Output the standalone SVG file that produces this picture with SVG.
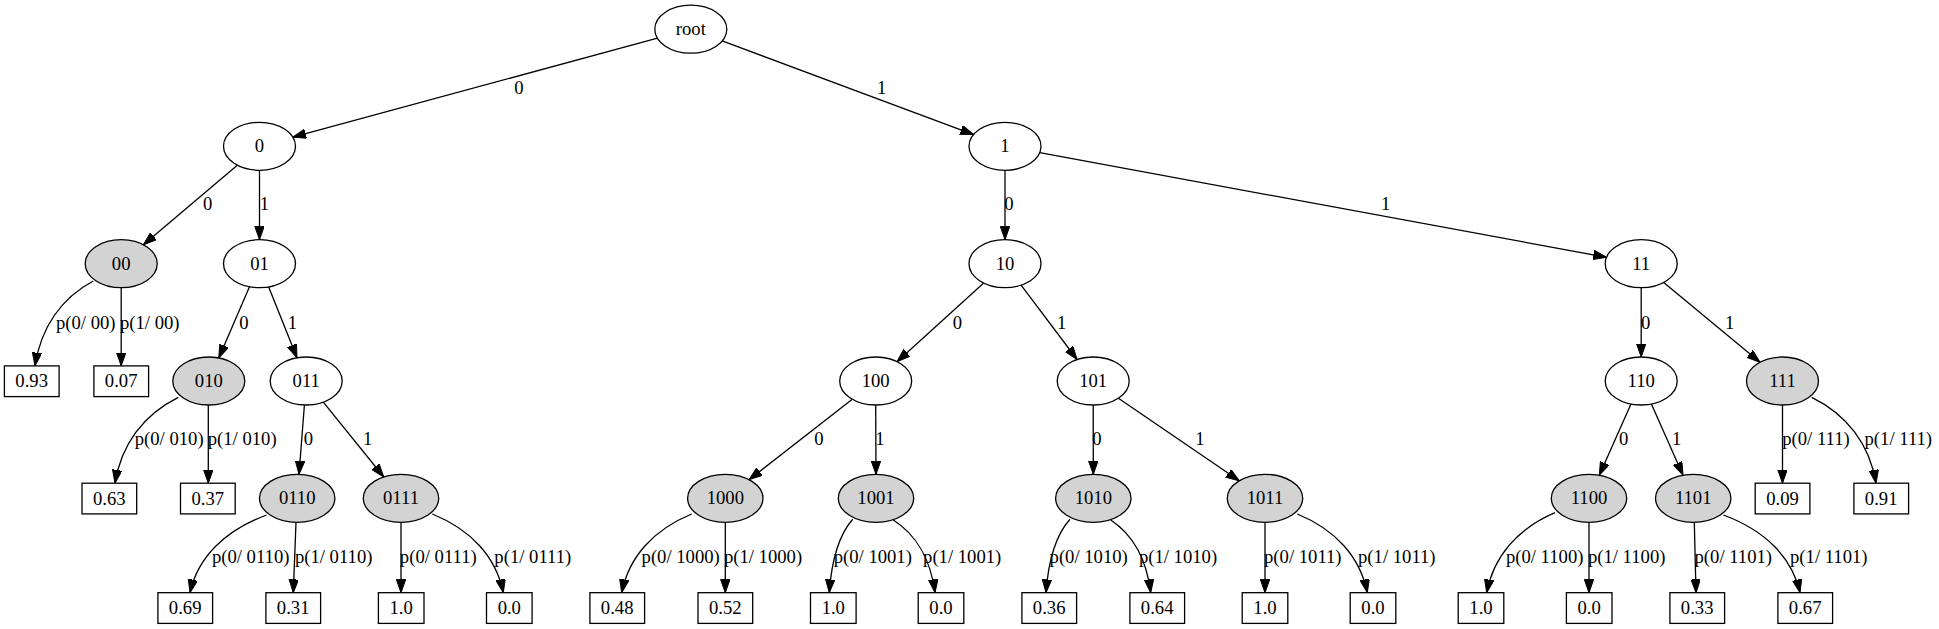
<svg xmlns="http://www.w3.org/2000/svg" width="1939" height="629" viewBox="0 0 1939 629">
<style>
text{font-family:"Liberation Serif","Times New Roman",serif;font-size:18.67px;fill:#000;text-anchor:middle}
.n ellipse{fill:#fff;stroke:#000;stroke-width:1.3}
.n.g ellipse{fill:#d3d3d3}
.n rect{fill:#fff;stroke:#000;stroke-width:1.3}
#edges path{fill:none;stroke:#000;stroke-width:1.3;marker-end:url(#ah)}
</style>
<defs>
<marker id="ah" markerUnits="userSpaceOnUse" markerWidth="14" markerHeight="10" refX="13.3" refY="4.7" orient="auto">
<path d="M0,0 L13.3,4.7 L0,9.4 z" fill="#000" stroke="#000" stroke-width="1"/>
</marker>
</defs>
<rect width="1939" height="629" fill="#fff"/>
<g id="edges">
<path d="M657.5,38.1 L292.8,137.2"/>
<path d="M722.2,40.9 L973.6,134.6"/>
<path d="M237.3,165.2 L143.4,244.8"/>
<path d="M259.5,170.3 L259.5,239.7"/>
<path d="M1005,170.3 L1005,239.7"/>
<path d="M1039.7,152.7 L1606.5,257.3"/>
<path d="M249.5,286.8 L218.8,357.9"/>
<path d="M268.7,286.9 L297,357.8"/>
<path d="M983.7,283 L897,361.7"/>
<path d="M1021.1,285.2 L1077.1,359.5"/>
<path d="M1641.2,287.7 L1641.2,357"/>
<path d="M1663.7,282.4 L1760,362.3"/>
<path d="M304.4,405 L299,474.3"/>
<path d="M323.3,402.1 L383.8,477"/>
<path d="M852.3,399.2 L749.1,479.7"/>
<path d="M875.7,405 L876,474.3"/>
<path d="M1093.2,405 L1093.3,474.3"/>
<path d="M1118.4,398.2 L1239.3,480.8"/>
<path d="M1631,404 L1599.3,475.2"/>
<path d="M1651.4,404 L1683,475.2"/>
<path d="M93.3,281 C61.2,298 40.8,327.7 35,365.9"/>
<path d="M121.2,287.7 L121.2,365.9"/>
<path d="M178.3,397.3 C143.5,414.5 121.3,444.5 115,483.2"/>
<path d="M208.3,405 L208.3,483.2"/>
<path d="M266.7,515 C224.5,530.5 197.7,557.7 190,592.7"/>
<path d="M296,522.3 L293.3,592.7"/>
<path d="M401,522.3 L401,592.7"/>
<path d="M432.3,514 C471.4,529.7 496.2,557.3 503.3,592.7"/>
<path d="M691.7,514 C653.2,529.7 628.7,557.3 621.7,592.7"/>
<path d="M725.3,522.3 L725.3,592.7"/>
<path d="M852.7,519.3 C839.8,534 831.6,559.7 829.3,592.7"/>
<path d="M893.3,520 C916.2,534.5 930.8,560 935,592.7"/>
<path d="M1070,519.3 C1056.8,534 1048.4,559.7 1046,592.7"/>
<path d="M1110.7,520 C1132.7,534.5 1146.7,560 1150.7,592.7"/>
<path d="M1265,522.3 L1265,592.7"/>
<path d="M1297.3,514 C1335.8,529.7 1360.3,557.3 1367.3,592.7"/>
<path d="M1555,512.7 C1517.4,528.7 1493.5,556.7 1486.7,592.7"/>
<path d="M1589,522.3 L1589,592.7"/>
<path d="M1694.3,522.3 L1696,592.7"/>
<path d="M1723.3,515 C1765.5,530.5 1792.3,557.7 1800,592.7"/>
<path d="M1782.5,405 L1782.5,483.2"/>
<path d="M1811.7,397.3 C1847.1,414.5 1869.6,444.5 1876,483.2"/>
<g id="edge-labels">
<text x="519" y="93.7">0</text>
<text x="881.7" y="93.7">1</text>
<text x="207.7" y="210">0</text>
<text x="264.3" y="210">1</text>
<text x="1009" y="210">0</text>
<text x="1385.7" y="210">1</text>
<text x="85.8" y="328.7">p(0/ 00)</text>
<text x="149.8" y="328.7">p(1/ 00)</text>
<text x="244" y="328.7">0</text>
<text x="292.3" y="328.7">1</text>
<text x="957.3" y="328.7">0</text>
<text x="1061.7" y="328.7">1</text>
<text x="1645.7" y="328.7">0</text>
<text x="1729.7" y="328.7">1</text>
<text x="169.2" y="445.3">p(0/ 010)</text>
<text x="242.2" y="445.3">p(1/ 010)</text>
<text x="308.3" y="445.3">0</text>
<text x="367.7" y="445.3">1</text>
<text x="819" y="445.3">0</text>
<text x="880" y="445.3">1</text>
<text x="1097" y="445.3">0</text>
<text x="1200" y="445.3">1</text>
<text x="1623.7" y="445.3">0</text>
<text x="1676.7" y="445.3">1</text>
<text x="1816" y="445.3">p(0/ 111)</text>
<text x="1898.3" y="445.3">p(1/ 111)</text>
<text x="250.7" y="563.3">p(0/ 0110)</text>
<text x="333.7" y="563.3">p(1/ 0110)</text>
<text x="438.3" y="563.3">p(0/ 0111)</text>
<text x="532.8" y="563.3">p(1/ 0111)</text>
<text x="680.7" y="563.3">p(0/ 1000)</text>
<text x="763" y="563.3">p(1/ 1000)</text>
<text x="872.8" y="563.3">p(0/ 1001)</text>
<text x="962.2" y="563.3">p(1/ 1001)</text>
<text x="1088.7" y="563.3">p(0/ 1010)</text>
<text x="1178" y="563.3">p(1/ 1010)</text>
<text x="1302.8" y="563.3">p(0/ 1011)</text>
<text x="1396.8" y="563.3">p(1/ 1011)</text>
<text x="1544.7" y="563.3">p(0/ 1100)</text>
<text x="1626.7" y="563.3">p(1/ 1100)</text>
<text x="1733.3" y="563.3">p(0/ 1101)</text>
<text x="1828.8" y="563.3">p(1/ 1101)</text>
</g>
</g>
<g id="root" class="n"><ellipse cx="690.8" cy="29.2" rx="36" ry="24"/><text x="690.8" y="35.2">root</text></g>
<g id="n0" class="n"><ellipse cx="259.5" cy="146.3" rx="36" ry="24"/><text x="259.5" y="152.3">0</text></g>
<g id="n1" class="n"><ellipse cx="1005" cy="146.3" rx="36" ry="24"/><text x="1005" y="152.3">1</text></g>
<g id="n00" class="n g"><ellipse cx="121.2" cy="263.7" rx="36" ry="24"/><text x="121.2" y="269.7">00</text></g>
<g id="n01" class="n"><ellipse cx="259.5" cy="263.7" rx="36" ry="24"/><text x="259.5" y="269.7">01</text></g>
<g id="n10" class="n"><ellipse cx="1005" cy="263.7" rx="36" ry="24"/><text x="1005" y="269.7">10</text></g>
<g id="n11" class="n"><ellipse cx="1641.2" cy="263.7" rx="36" ry="24"/><text x="1641.2" y="269.7">11</text></g>
<g id="n010" class="n g"><ellipse cx="208.8" cy="381" rx="36" ry="24"/><text x="208.8" y="387">010</text></g>
<g id="n011" class="n"><ellipse cx="306.2" cy="381" rx="36" ry="24"/><text x="306.2" y="387">011</text></g>
<g id="n100" class="n"><ellipse cx="875.7" cy="381" rx="36" ry="24"/><text x="875.7" y="387">100</text></g>
<g id="n101" class="n"><ellipse cx="1093.2" cy="381" rx="36" ry="24"/><text x="1093.2" y="387">101</text></g>
<g id="n110" class="n"><ellipse cx="1641.2" cy="381" rx="36" ry="24"/><text x="1641.2" y="387">110</text></g>
<g id="n111" class="n g"><ellipse cx="1782.5" cy="381" rx="36" ry="24"/><text x="1782.5" y="387">111</text></g>
<g id="n0110" class="n g"><ellipse cx="297.2" cy="498.3" rx="37.7" ry="24"/><text x="297.2" y="504.3">0110</text></g>
<g id="n0111" class="n g"><ellipse cx="401" cy="498.3" rx="37.7" ry="24"/><text x="401" y="504.3">0111</text></g>
<g id="n1000" class="n g"><ellipse cx="725.3" cy="498.3" rx="37.7" ry="24"/><text x="725.3" y="504.3">1000</text></g>
<g id="n1001" class="n g"><ellipse cx="876" cy="498.3" rx="37.7" ry="24"/><text x="876" y="504.3">1001</text></g>
<g id="n1010" class="n g"><ellipse cx="1093.3" cy="498.3" rx="37.7" ry="24"/><text x="1093.3" y="504.3">1010</text></g>
<g id="n1011" class="n g"><ellipse cx="1265" cy="498.3" rx="37.7" ry="24"/><text x="1265" y="504.3">1011</text></g>
<g id="n1100" class="n g"><ellipse cx="1589" cy="498.3" rx="37.7" ry="24"/><text x="1589" y="504.3">1100</text></g>
<g id="n1101" class="n g"><ellipse cx="1693.2" cy="498.3" rx="37.7" ry="24"/><text x="1693.2" y="504.3">1101</text></g>
<g id="p00_0" class="n"><rect x="4.4" y="365.9" width="54.7" height="30.7"/><text x="31.7" y="387.2">0.93</text></g>
<g id="p00_1" class="n"><rect x="93.9" y="365.9" width="54.7" height="30.7"/><text x="121.2" y="387.2">0.07</text></g>
<g id="p010_0" class="n"><rect x="82" y="483.2" width="54.7" height="30.7"/><text x="109.3" y="504.5">0.63</text></g>
<g id="p010_1" class="n"><rect x="180.5" y="483.2" width="54.7" height="30.7"/><text x="207.8" y="504.5">0.37</text></g>
<g id="p111_0" class="n"><rect x="1755.2" y="483.2" width="54.7" height="30.7"/><text x="1782.5" y="504.5">0.09</text></g>
<g id="p111_1" class="n"><rect x="1853.9" y="483.2" width="54.7" height="30.7"/><text x="1881.2" y="504.5">0.91</text></g>
<g id="p0110_0" class="n"><rect x="157.9" y="592.7" width="54.7" height="30.7"/><text x="185.2" y="614">0.69</text></g>
<g id="p0110_1" class="n"><rect x="265.9" y="592.7" width="54.7" height="30.7"/><text x="293.2" y="614">0.31</text></g>
<g id="p0111_0" class="n"><rect x="378.4" y="592.7" width="45.6" height="30.7"/><text x="401.2" y="614">1.0</text></g>
<g id="p0111_1" class="n"><rect x="486.5" y="592.7" width="45.6" height="30.7"/><text x="509.3" y="614">0.0</text></g>
<g id="p1000_0" class="n"><rect x="589.9" y="592.7" width="54.7" height="30.7"/><text x="617.2" y="614">0.48</text></g>
<g id="p1000_1" class="n"><rect x="698" y="592.7" width="54.7" height="30.7"/><text x="725.3" y="614">0.52</text></g>
<g id="p1001_0" class="n"><rect x="810.5" y="592.7" width="45.6" height="30.7"/><text x="833.3" y="614">1.0</text></g>
<g id="p1001_1" class="n"><rect x="918.2" y="592.7" width="45.6" height="30.7"/><text x="941" y="614">0.0</text></g>
<g id="p1010_0" class="n"><rect x="1021.9" y="592.7" width="54.7" height="30.7"/><text x="1049.2" y="614">0.36</text></g>
<g id="p1010_1" class="n"><rect x="1129.9" y="592.7" width="54.7" height="30.7"/><text x="1157.2" y="614">0.64</text></g>
<g id="p1011_0" class="n"><rect x="1242.2" y="592.7" width="45.6" height="30.7"/><text x="1265" y="614">1.0</text></g>
<g id="p1011_1" class="n"><rect x="1350.2" y="592.7" width="45.6" height="30.7"/><text x="1373" y="614">0.0</text></g>
<g id="p1100_0" class="n"><rect x="1458.2" y="592.7" width="45.6" height="30.7"/><text x="1481" y="614">1.0</text></g>
<g id="p1100_1" class="n"><rect x="1566.4" y="592.7" width="45.6" height="30.7"/><text x="1589.2" y="614">0.0</text></g>
<g id="p1101_0" class="n"><rect x="1669.9" y="592.7" width="54.7" height="30.7"/><text x="1697.2" y="614">0.33</text></g>
<g id="p1101_1" class="n"><rect x="1777.9" y="592.7" width="54.7" height="30.7"/><text x="1805.2" y="614">0.67</text></g>
</svg>
